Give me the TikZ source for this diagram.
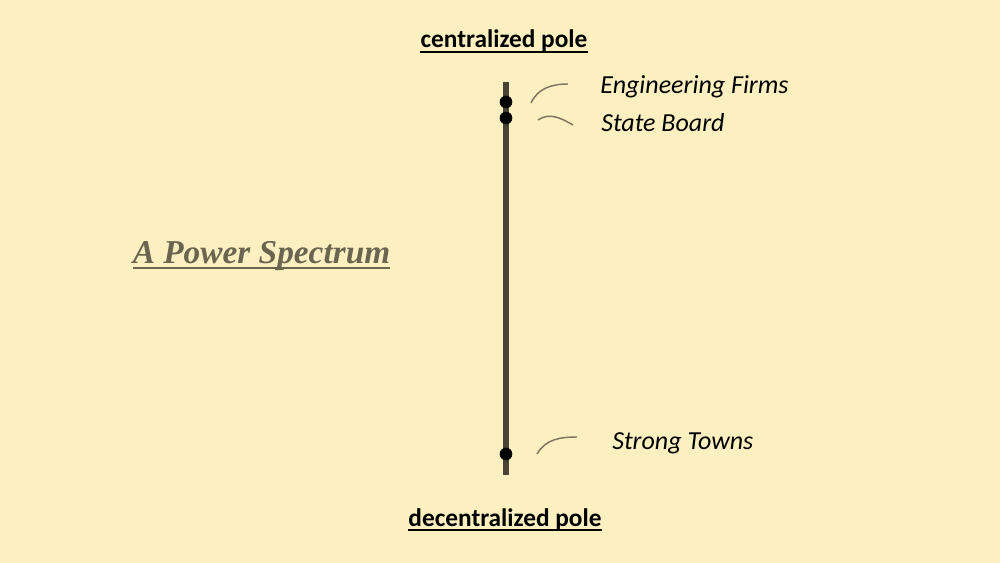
\documentclass[tikz,border=0pt]{standalone}
\usepackage{fontspec}
\setmainfont{Carlito}
\newfontfamily\titlefont{Liberation Serif}
\usetikzlibrary{positioning,calc}
\definecolor{paper}{HTML}{FDF0C0}
\definecolor{axisgray}{HTML}{4A4438}
\definecolor{titlegray}{HTML}{6B6450}
\definecolor{arcgray}{HTML}{7D7462}
\tikzset{
  dot/.style={circle,fill=black,inner sep=0pt,minimum size=9.5pt},
  pole/.style={font=\fontsize{19}{22}\selectfont\bfseries,inner sep=0pt,anchor=base},
  actor/.style={font=\fontsize{19.5}{22}\selectfont\itshape,inner sep=0pt,anchor=base west},
  hook/.style={arcgray,line width=1.1pt},
  uline/.style={line width=1.4pt}
}
\begin{document}
\begin{tikzpicture}[x=0.75pt,y=-0.75pt]
        \fill[paper] (0,0) rectangle (1000,563);
        \useasboundingbox (0,0) rectangle (1000,563);
        \begin{scope}
          \def\xpole{506}

          \coordinate (top) at (\xpole,82);
          \coordinate (bottom) at (\xpole,475);
          \draw[axisgray,line width=3.8pt] (top) -- (bottom);
          \foreach \y/\n in {102/eng,118/board,454/towns}
            \node[dot] (\n) at (\xpole,\y) {};

          \node[pole] (cpole) at (504,48) {centralized pole};
          \node[pole] (dpole) at (505,526) {decentralized pole};
          \foreach \p in {cpole,dpole}
            \draw[uline] ([yshift=-3.2pt]\p.base west) -- ([yshift=-3.2pt]\p.base east);
        \end{scope}
        \begin{scope}
          \node[actor] (englabel) at (600,94) {Engineering Firms};
          \node[actor] (boardlabel) at (601,132) {State Board};
          \node[actor] (townslabel) at (612,449) {Strong Towns};

          \coordinate (enga) at (531,103);   \coordinate (engb) at (568,84);
          \coordinate (boarda) at (538,120); \coordinate (boardb) at (573,125);
          \coordinate (townsa) at (537,454); \coordinate (townsb) at (577,437);
          \draw[hook] (enga) to[out=65,in=180] (engb);
          \draw[hook] (boarda) to[out=35,in=150] (boardb);
          \draw[hook] (townsa) to[out=60,in=180] (townsb);
        \end{scope}
        \node[inner sep=0pt,anchor=base,text=titlegray,font=\titlefont\fontsize{25}{30}\selectfont\bfseries\itshape] (title) at (261.5,263) {A Power Spectrum};
        \draw[titlegray,uline] ([yshift=-3.8pt]title.base west) -- ([yshift=-3.8pt]title.base east);
      \end{tikzpicture}
\end{document}
